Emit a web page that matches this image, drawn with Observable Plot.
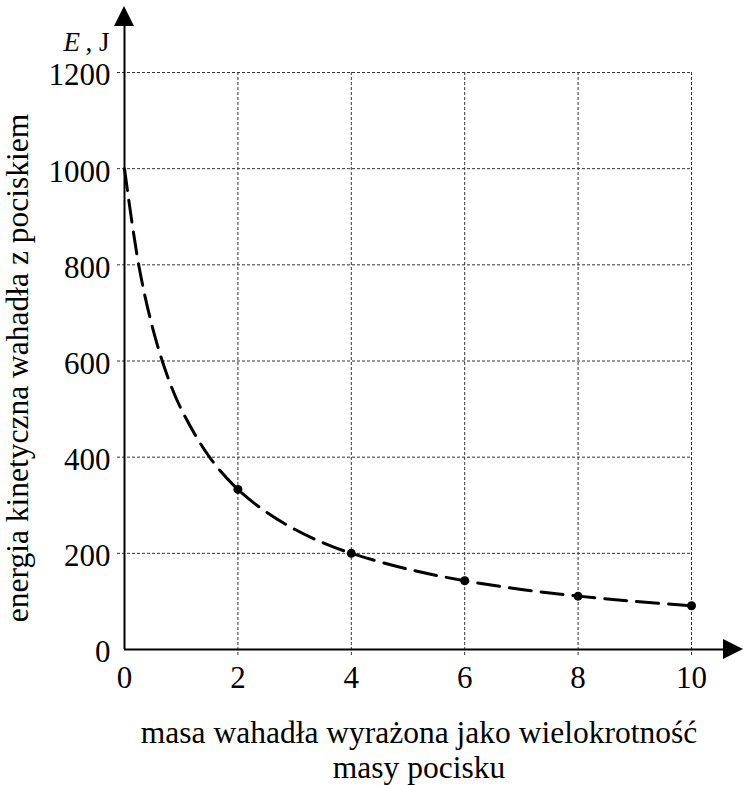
<!DOCTYPE html>
<html>
<head>
<meta charset="utf-8">
<script src="https://cdn.jsdelivr.net/npm/d3@7"></script>
<script src="https://cdn.jsdelivr.net/npm/@observablehq/plot@0.6"></script>
<style>
  html, body { margin: 0; padding: 0; background: #fff; }
  #chart svg { display: block; }
</style>
</head>
<body>
<div id="chart"></div>
<script>
// Points (mass multiple -> energy, J)
const curveX = [0, 0.25, 0.5, 0.75, 1, 1.5, 2, 2.5, 3, 3.5, 4, 5, 6, 7, 8, 9, 10];
const curveE = [1000, 800, 667, 571, 500, 400, 333, 286, 250, 222, 200, 167, 143, 125, 111, 100, 91];
// Marked points
const pointX = [2, 4, 6, 8, 10];
const pointE = [333, 200, 143, 111, 91];
// Ticks
const xTicks = [0, 2, 4, 6, 8, 10];
const yTicks = [0, 200, 400, 600, 800, 1000, 1200];
// Texts
const xLabel = "masa wahadła wyrażona jako wielokrotność\nmasy pocisku";
const yLabel = "energia kinetyczna wahadła z pociskiem";
const unitSymbol = "E";
const unitRest = ", J";

const curve = curveX.map((x, i) => ({x, e: curveE[i]}));
const points = pointX.map((x, i) => ({x, e: pointE[i]}));

const serif = "'Liberation Serif', 'Times New Roman', serif";
const gridStyle = {stroke: "#333", strokeWidth: 1, strokeDasharray: "3,2"};

const arrows = (index, scales) => {
  const g = d3.create("svg:g").attr("fill", "#000");
  const x0 = scales.x(0), y0 = scales.y(0);
  g.append("path").attr("d", `M${x0},6L${x0 - 10},26L${x0 + 10},26Z`);
  g.append("path").attr("d", `M743,${y0}L723,${y0 - 10}L723,${y0 + 10}Z`);
  return g.node();
};

const plot = Plot.plot({
  width: 743,
  height: 785,
  marginLeft: 124,
  marginRight: 52,
  marginTop: 72,
  marginBottom: 136,
  style: {fontFamily: serif, fontSize: "31px", background: "#fff", overflow: "visible"},
  x: {domain: [0, 10]},
  y: {domain: [0, 1200]},
  marks: [
    Plot.ruleY(yTicks.filter(d => d > 0), {y: d => d, ...gridStyle, insetLeft: -7}),
    Plot.ruleX(xTicks.filter(d => d > 0), {x: d => d, ...gridStyle, insetBottom: -8}),
    Plot.axisX(xTicks, {tickSize: 0, tickPadding: 16, tickFormat: "d", label: null, fill: "#000"}),
    Plot.axisY(yTicks, {tickSize: 0, tickPadding: 14, tickFormat: "d", label: null, fill: "#000", dy: 3}),
    Plot.ruleX([0], {stroke: "#000", strokeWidth: 2, insetTop: -50}),
    Plot.ruleY([0], {stroke: "#000", strokeWidth: 2, insetRight: -32}),
    arrows,
    Plot.line(curve, {x: "x", y: "e", curve: "catmull-rom", stroke: "#000", strokeWidth: 3, strokeDasharray: "22,10"}),
    Plot.dot(points, {x: "x", y: "e", r: 4.5, fill: "#000", stroke: "none"}),
    Plot.text([xLabel], {frameAnchor: "bottom", textAnchor: "middle", dx: 11, dy: 69, lineAnchor: "top", fontSize: 31.5, lineHeight: 1.11, fill: "#000"}),
    Plot.text([yLabel], {frameAnchor: "left", textAnchor: "middle", lineAnchor: "middle", dx: -107, dy: 7, rotate: -90, fontSize: 31.5, fill: "#000"}),
    Plot.text([unitSymbol], {frameAnchor: "top-left", dx: -61, dy: -22, textAnchor: "start", lineAnchor: "bottom", fontSize: 27, fontStyle: "italic", fill: "#000"}),
    Plot.text([unitRest], {frameAnchor: "top-left", dx: -15, dy: -22, textAnchor: "end", lineAnchor: "bottom", fontSize: 27, fill: "#000"})
  ]
});

document.getElementById("chart").appendChild(plot);
</script>
</body>
</html>
